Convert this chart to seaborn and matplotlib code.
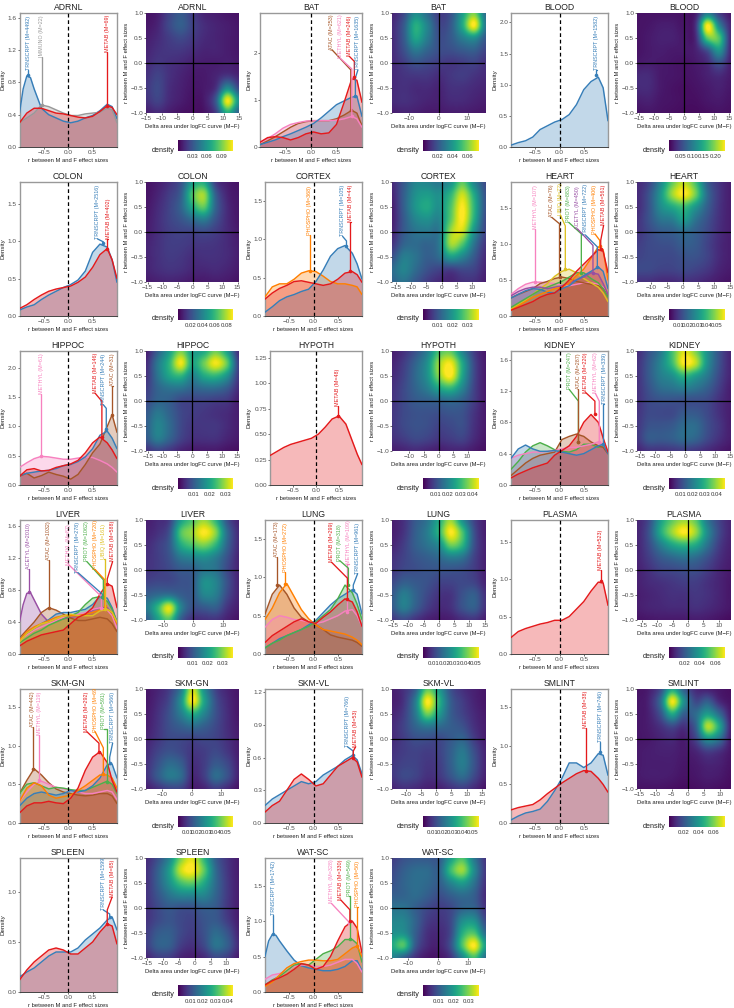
import numpy as np
import seaborn as sns
import matplotlib
matplotlib.use("Agg")
import matplotlib.pyplot as plt
from matplotlib.colors import Normalize

# r grid the density values were read at
R = [-1.0, -0.85, -0.7, -0.55, -0.4, -0.25, -0.1, 0.05, 0.2, 0.35, 0.5, 0.65, 0.8, 0.9, 1.0]
# same grid with two more readings, for the curves that peak near r=-0.8
R_LEFT = [-1.0, -0.925, -0.85, -0.775, -0.7, -0.55, -0.4, -0.25, -0.1, 0.05, 0.2, 0.35, 0.5, 0.65, 0.8, 0.9, 1.0]

ADRNL_TRNSCRPT = [0.42, 0.72, 0.88, 0.86, 0.72, 0.48, 0.40, 0.36, 0.32, 0.30, 0.32, 0.36, 0.39, 0.45, 0.53, 0.50, 0.35]
ADRNL_IMMUNO = [0.30, 0.36, 0.42, 0.52, 0.50, 0.46, 0.42, 0.39, 0.39, 0.41, 0.42, 0.43, 0.48, 0.46, 0.30]
ADRNL_METAB = [0.30, 0.42, 0.48, 0.48, 0.45, 0.42, 0.41, 0.39, 0.37, 0.36, 0.38, 0.44, 0.51, 0.49, 0.40]
BAT_TRNSCRPT = [0.05, 0.10, 0.15, 0.22, 0.28, 0.35, 0.42, 0.50, 0.62, 0.76, 0.90, 0.98, 1.06, 1.08, 0.65]
BAT_ATAC = [0.05, 0.13, 0.22, 0.32, 0.42, 0.50, 0.54, 0.56, 0.56, 0.56, 0.60, 0.68, 0.78, 0.72, 0.45]
BAT_METHYL = [0.10, 0.18, 0.28, 0.40, 0.48, 0.52, 0.55, 0.56, 0.56, 0.56, 0.57, 0.60, 0.65, 0.60, 0.42]
BAT_METAB = [0.10, 0.20, 0.22, 0.20, 0.15, 0.20, 0.28, 0.32, 0.28, 0.30, 0.48, 0.95, 1.45, 1.42, 0.95]
BLOOD_TRNSCRPT = [0.03, 0.07, 0.10, 0.16, 0.28, 0.34, 0.40, 0.44, 0.52, 0.68, 0.92, 1.05, 1.12, 0.95, 0.42]
COLON_TRNSCRPT = [0.08, 0.12, 0.15, 0.22, 0.28, 0.33, 0.38, 0.42, 0.48, 0.60, 0.85, 0.96, 0.92, 0.75, 0.45]
COLON_METAB = [0.10, 0.15, 0.22, 0.28, 0.33, 0.36, 0.38, 0.40, 0.45, 0.52, 0.65, 0.82, 0.90, 0.75, 0.50]
CORTEX_TRNSCRPT = [0.05, 0.12, 0.20, 0.25, 0.28, 0.32, 0.35, 0.45, 0.60, 0.78, 0.88, 0.92, 0.82, 0.68, 0.48]
CORTEX_PHOSPHO = [0.25, 0.38, 0.42, 0.42, 0.48, 0.56, 0.59, 0.58, 0.52, 0.45, 0.42, 0.42, 0.40, 0.38, 0.28]
CORTEX_METAB = [0.22, 0.30, 0.36, 0.40, 0.45, 0.46, 0.44, 0.42, 0.40, 0.42, 0.48, 0.56, 0.58, 0.54, 0.44]
HEART_METHYL = [0.30, 0.38, 0.44, 0.47, 0.47, 0.46, 0.45, 0.42, 0.42, 0.44, 0.46, 0.46, 0.44, 0.40, 0.30]
HEART_ATAC = [0.25, 0.30, 0.34, 0.38, 0.45, 0.48, 0.52, 0.54, 0.52, 0.48, 0.46, 0.44, 0.42, 0.38, 0.28]
HEART_UBIQ = [0.10, 0.16, 0.22, 0.30, 0.38, 0.45, 0.55, 0.62, 0.65, 0.60, 0.52, 0.46, 0.40, 0.32, 0.20]
HEART_PROT = [0.12, 0.18, 0.24, 0.30, 0.36, 0.40, 0.44, 0.48, 0.54, 0.60, 0.60, 0.52, 0.46, 0.38, 0.26]
HEART_ACETYL = [0.28, 0.34, 0.38, 0.40, 0.40, 0.38, 0.40, 0.42, 0.46, 0.50, 0.54, 0.60, 0.58, 0.45, 0.30]
HEART_TRNSCRPT = [0.25, 0.30, 0.35, 0.38, 0.37, 0.33, 0.32, 0.38, 0.42, 0.50, 0.56, 0.62, 0.68, 0.62, 0.38]
HEART_PHOSPHO = [0.08, 0.14, 0.20, 0.26, 0.30, 0.34, 0.38, 0.40, 0.46, 0.56, 0.65, 0.80, 0.96, 0.92, 0.50]
HEART_METAB = [0.08, 0.12, 0.16, 0.20, 0.26, 0.30, 0.32, 0.40, 0.50, 0.62, 0.72, 0.82, 0.92, 0.90, 0.60]
HIPPOC_METHYL = [0.30, 0.38, 0.45, 0.49, 0.48, 0.46, 0.44, 0.44, 0.46, 0.48, 0.47, 0.42, 0.36, 0.30, 0.22]
HIPPOC_METAB = [0.15, 0.26, 0.28, 0.24, 0.25, 0.30, 0.33, 0.36, 0.42, 0.55, 0.72, 0.82, 0.72, 0.60, 0.45]
HIPPOC_TRNSCRPT = [0.16, 0.20, 0.22, 0.24, 0.25, 0.28, 0.33, 0.35, 0.40, 0.48, 0.62, 0.85, 0.92, 0.80, 0.62]
HIPPOC_ATAC = [0.15, 0.20, 0.12, 0.16, 0.22, 0.18, 0.15, 0.10, 0.18, 0.35, 0.55, 0.70, 1.00, 1.20, 0.90]
HYPOTH_METAB = [0.29, 0.33, 0.37, 0.40, 0.42, 0.44, 0.46, 0.50, 0.57, 0.65, 0.68, 0.60, 0.42, 0.30, 0.20]
KIDNEY_PROT = [0.20, 0.30, 0.42, 0.50, 0.54, 0.50, 0.45, 0.43, 0.42, 0.45, 0.52, 0.52, 0.48, 0.50, 0.40]
KIDNEY_ATAC = [0.12, 0.20, 0.28, 0.34, 0.38, 0.40, 0.42, 0.58, 0.62, 0.65, 0.62, 0.55, 0.50, 0.48, 0.40]
KIDNEY_METAB = [0.09, 0.14, 0.18, 0.22, 0.25, 0.28, 0.38, 0.44, 0.50, 0.62, 0.80, 0.90, 0.80, 0.60, 0.42]
KIDNEY_METHYL = [0.34, 0.38, 0.40, 0.42, 0.42, 0.43, 0.44, 0.46, 0.48, 0.48, 0.50, 0.52, 0.55, 0.52, 0.42]
KIDNEY_TRNSCRPT = [0.34, 0.46, 0.51, 0.46, 0.43, 0.43, 0.44, 0.42, 0.40, 0.38, 0.40, 0.45, 0.50, 0.52, 0.40]
LIVER_ACETYL = [0.40, 0.62, 0.76, 0.77, 0.68, 0.50, 0.40, 0.42, 0.44, 0.46, 0.47, 0.50, 0.55, 0.58, 0.58, 0.50, 0.38]
LIVER_ATAC = [0.20, 0.30, 0.40, 0.52, 0.58, 0.55, 0.50, 0.45, 0.42, 0.42, 0.44, 0.46, 0.44, 0.38, 0.28]
LIVER_METHYL = [0.18, 0.24, 0.30, 0.34, 0.38, 0.42, 0.46, 0.48, 0.50, 0.52, 0.56, 0.58, 0.55, 0.48, 0.32]
LIVER_TRNSCRPT = [0.20, 0.26, 0.32, 0.38, 0.43, 0.50, 0.52, 0.52, 0.54, 0.56, 0.62, 0.72, 0.70, 0.58, 0.40]
LIVER_PROT = [0.14, 0.20, 0.26, 0.30, 0.36, 0.40, 0.44, 0.48, 0.52, 0.62, 0.70, 0.72, 0.66, 0.56, 0.40]
LIVER_PHOSPHO = [0.18, 0.28, 0.34, 0.38, 0.42, 0.46, 0.48, 0.48, 0.48, 0.50, 0.52, 0.55, 0.56, 0.52, 0.38]
LIVER_UBIQ = [0.15, 0.26, 0.32, 0.38, 0.40, 0.44, 0.48, 0.50, 0.48, 0.48, 0.48, 0.54, 0.56, 0.52, 0.40]
LIVER_METAB = [0.10, 0.16, 0.20, 0.24, 0.26, 0.28, 0.30, 0.38, 0.46, 0.50, 0.58, 0.75, 0.88, 0.85, 0.58]
LUNG_ATAC = [0.52, 0.78, 0.90, 0.78, 0.60, 0.48, 0.42, 0.38, 0.32, 0.25, 0.22, 0.20, 0.18, 0.15, 0.10]
LUNG_PHOSPHO = [0.45, 0.60, 0.80, 0.92, 0.75, 0.58, 0.46, 0.38, 0.32, 0.30, 0.28, 0.26, 0.22, 0.18, 0.12]
LUNG_METAB = [0.15, 0.24, 0.30, 0.36, 0.42, 0.46, 0.42, 0.40, 0.48, 0.55, 0.64, 0.72, 0.68, 0.55, 0.36]
LUNG_PROT = [0.08, 0.14, 0.18, 0.24, 0.28, 0.32, 0.36, 0.42, 0.50, 0.58, 0.72, 0.90, 0.80, 0.65, 0.45]
LUNG_METHYL = [0.35, 0.45, 0.50, 0.48, 0.45, 0.44, 0.42, 0.40, 0.42, 0.46, 0.50, 0.56, 0.58, 0.50, 0.36]
LUNG_TRNSCRPT = [0.08, 0.14, 0.20, 0.24, 0.28, 0.32, 0.38, 0.44, 0.54, 0.64, 0.72, 0.78, 0.84, 0.78, 0.52]
PLASMA_METAB = [0.22, 0.30, 0.34, 0.37, 0.40, 0.42, 0.45, 0.45, 0.50, 0.60, 0.70, 0.84, 0.96, 0.95, 0.65]
SKMGN_ATAC = [0.38, 0.55, 0.70, 0.62, 0.52, 0.44, 0.40, 0.38, 0.36, 0.35, 0.36, 0.38, 0.38, 0.35, 0.25]
SKMGN_METHYL = [0.28, 0.40, 0.50, 0.54, 0.50, 0.46, 0.44, 0.42, 0.40, 0.38, 0.38, 0.40, 0.42, 0.40, 0.30]
SKMGN_METAB = [0.13, 0.22, 0.26, 0.26, 0.28, 0.26, 0.25, 0.32, 0.45, 0.68, 0.85, 0.92, 0.78, 0.55, 0.40]
SKMGN_PHOSPHO = [0.28, 0.45, 0.52, 0.48, 0.36, 0.32, 0.34, 0.36, 0.42, 0.48, 0.55, 0.62, 0.62, 0.58, 0.45]
SKMGN_PROT = [0.38, 0.50, 0.52, 0.48, 0.44, 0.46, 0.45, 0.43, 0.42, 0.42, 0.46, 0.50, 0.54, 0.50, 0.38]
SKMGN_TRNSCRPT = [0.22, 0.32, 0.38, 0.40, 0.38, 0.36, 0.38, 0.42, 0.40, 0.42, 0.48, 0.58, 0.75, 0.76, 0.58]
SKMVL_TRNSCRPT = [0.16, 0.22, 0.26, 0.30, 0.34, 0.38, 0.36, 0.38, 0.44, 0.48, 0.52, 0.58, 0.62, 0.58, 0.45]
SKMVL_METAB = [0.10, 0.16, 0.20, 0.30, 0.40, 0.45, 0.40, 0.34, 0.36, 0.44, 0.52, 0.56, 0.60, 0.56, 0.42]
SMLINT_METAB = [0.17, 0.20, 0.22, 0.24, 0.30, 0.38, 0.45, 0.52, 0.58, 0.64, 0.68, 0.67, 0.58, 0.50, 0.40]
SMLINT_TRNSCRPT = [0.04, 0.09, 0.13, 0.15, 0.18, 0.28, 0.42, 0.58, 0.78, 0.78, 0.72, 0.78, 0.90, 0.88, 0.62]
SPLEEN_TRNSCRPT = [0.15, 0.20, 0.24, 0.30, 0.36, 0.40, 0.40, 0.40, 0.44, 0.52, 0.58, 0.64, 0.72, 0.75, 0.62]
SPLEEN_METAB = [0.12, 0.22, 0.30, 0.36, 0.42, 0.44, 0.42, 0.38, 0.38, 0.44, 0.50, 0.60, 0.68, 0.66, 0.48]
WATSC_TRNSCRPT = [0.50, 0.72, 0.81, 0.80, 0.72, 0.58, 0.45, 0.37, 0.34, 0.32, 0.30, 0.30, 0.32, 0.36, 0.44, 0.44, 0.30]
WATSC_METHYL = [0.18, 0.24, 0.26, 0.30, 0.36, 0.38, 0.38, 0.36, 0.36, 0.38, 0.42, 0.46, 0.46, 0.40, 0.28]
WATSC_METAB = [0.10, 0.16, 0.20, 0.25, 0.32, 0.40, 0.38, 0.32, 0.36, 0.50, 0.72, 0.92, 1.00, 0.90, 0.55]
WATSC_PROT = [0.10, 0.17, 0.22, 0.30, 0.38, 0.40, 0.38, 0.46, 0.54, 0.58, 0.64, 0.74, 0.74, 0.68, 0.42]
WATSC_PHOSPHO = [0.08, 0.14, 0.24, 0.34, 0.40, 0.43, 0.45, 0.45, 0.44, 0.44, 0.46, 0.54, 0.62, 0.65, 0.50]

TISSUES = ["ADRNL", "BAT", "BLOOD", "COLON", "CORTEX", "HEART", "HIPPOC", "HYPOTH", "KIDNEY", "LIVER", "LUNG",
           "PLASMA", "SKM-GN", "SKM-VL", "SMLINT", "SPLEEN", "WAT-SC"]

# tissue: (omic, number of features, density values)
SERIES = {
    "ADRNL": [("TRNSCRPT", 4492, ADRNL_TRNSCRPT), ("IMMUNO", 22, ADRNL_IMMUNO), ("METAB", 69, ADRNL_METAB)],
    "BAT": [("ATAC", 253, BAT_ATAC), ("METHYL", 621, BAT_METHYL), ("TRNSCRPT", 1635, BAT_TRNSCRPT), ("METAB", 246, BAT_METAB)],
    "BLOOD": [("TRNSCRPT", 1582, BLOOD_TRNSCRPT)],
    "COLON": [("TRNSCRPT", 2516, COLON_TRNSCRPT), ("METAB", 402, COLON_METAB)],
    "CORTEX": [("PHOSPHO", 368, CORTEX_PHOSPHO), ("TRNSCRPT", 105, CORTEX_TRNSCRPT), ("METAB", 44, CORTEX_METAB)],
    "HEART": [("METHYL", 107, HEART_METHYL), ("ATAC", 76, HEART_ATAC), ("UBIQ", 72, HEART_UBIQ), ("PROT", 883, HEART_PROT),
              ("ACETYL", 450, HEART_ACETYL), ("TRNSCRPT", 722, HEART_TRNSCRPT), ("PHOSPHO", 406, HEART_PHOSPHO), ("METAB", 561, HEART_METAB)],
    "HIPPOC": [("METHYL", 61, HIPPOC_METHYL), ("ATAC", 31, HIPPOC_ATAC), ("TRNSCRPT", 244, HIPPOC_TRNSCRPT), ("METAB", 146, HIPPOC_METAB)],
    "HYPOTH": [("METAB", 48, HYPOTH_METAB)],
    "KIDNEY": [("PROT", 247, KIDNEY_PROT), ("ATAC", 287, KIDNEY_ATAC), ("METHYL", 62, KIDNEY_METHYL), ("TRNSCRPT", 339, KIDNEY_TRNSCRPT), ("METAB", 220, KIDNEY_METAB)],
    "LIVER": [("ACETYL", 2010, LIVER_ACETYL), ("ATAC", 1032, LIVER_ATAC), ("METHYL", 87, LIVER_METHYL), ("TRNSCRPT", 278, LIVER_TRNSCRPT),
              ("PROT", 1062, LIVER_PROT), ("PHOSPHO", 720, LIVER_PHOSPHO), ("UBIQ", 161, LIVER_UBIQ), ("METAB", 588, LIVER_METAB)],
    "LUNG": [("ATAC", 173, LUNG_ATAC), ("PHOSPHO", 272, LUNG_PHOSPHO), ("METHYL", 109, LUNG_METHYL), ("TRNSCRPT", 961, LUNG_TRNSCRPT),
             ("PROT", 318, LUNG_PROT), ("METAB", 299, LUNG_METAB)],
    "PLASMA": [("METAB", 523, PLASMA_METAB)],
    "SKM-GN": [("ATAC", 442, SKMGN_ATAC), ("METHYL", 119, SKMGN_METHYL), ("PROT", 591, SKMGN_PROT), ("TRNSCRPT", 566, SKMGN_TRNSCRPT),
               ("PHOSPHO", 694, SKMGN_PHOSPHO), ("METAB", 292, SKMGN_METAB)],
    "SKM-VL": [("TRNSCRPT", 766, SKMVL_TRNSCRPT), ("METAB", 53, SKMVL_METAB)],
    "SMLINT": [("TRNSCRPT", 746, SMLINT_TRNSCRPT), ("METAB", 38, SMLINT_METAB)],
    "SPLEEN": [("TRNSCRPT", 1599, SPLEEN_TRNSCRPT), ("METAB", 65, SPLEEN_METAB)],
    "WAT-SC": [("TRNSCRPT", 1742, WATSC_TRNSCRPT), ("METHYL", 328, WATSC_METHYL), ("PROT", 549, WATSC_PROT),
               ("PHOSPHO", 50, WATSC_PHOSPHO), ("METAB", 330, WATSC_METAB)],
}

# peak r, peak density, elbow y, label x, label y - same order as SERIES
LABEL_SPOTS = {
    "ADRNL": [(-0.82, 0.89, 0.95, -0.82, 0.95), (-0.54, 0.52, 1.11, -0.54, 1.11), (0.80, 0.51, 1.18, 0.80, 1.18)],
    "BAT": [(0.78, 0.78, 1.64, 0.41, 2.07), (0.80, 0.65, 1.66, 0.57, 1.89), (0.87, 1.08, 1.47, 0.92, 1.64), (0.85, 1.48, 1.82, 0.75, 1.93)],
    "BLOOD": [(0.75, 1.15, 1.24, 0.77, 1.24)],
    "COLON": [(0.72, 0.97, 0.99, 0.60, 1.03), (0.80, 0.90, 1.03, 0.82, 1.03)],
    "CORTEX": [(-0.08, 0.59, 1.06, -0.08, 1.06), (0.68, 0.92, 0.98, 0.60, 1.04), (0.75, 0.59, 1.23, 0.77, 1.23)],
    "HEART": [(-0.50, 0.47, 1.21, -0.50, 1.21), (0.00, 0.54, 1.28, -0.16, 1.37), (0.12, 0.65, 1.25, 0.02, 1.40), (0.45, 0.60, 1.14, 0.19, 1.30),
              (0.69, 0.60, 0.98, 0.37, 1.21), (0.78, 0.68, 0.96, 0.54, 1.12), (0.83, 0.97, 1.05, 0.73, 1.14), (0.85, 0.93, 1.05, 0.91, 1.26)],
    "HIPPOC": [(-0.55, 0.49, 1.56, -0.55, 1.56), (0.90, 1.20, 1.69, 0.91, 1.69), (0.78, 0.95, 1.31, 0.72, 1.37), (0.69, 0.82, 1.43, 0.55, 1.57)],
    "HYPOTH": [(0.47, 0.68, 0.78, 0.47, 0.78)],
    "KIDNEY": [(0.39, 0.55, 1.07, 0.20, 1.22), (0.39, 0.55, 1.22, 0.39, 1.22), (0.82, 0.55, 1.07, 0.74, 1.17), (0.90, 0.52, 1.03, 0.92, 1.03), (0.73, 0.90, 1.07, 0.54, 1.18)],
    "LIVER": [(-0.81, 0.78, 1.07, -0.81, 1.07), (-0.40, 0.58, 1.18, -0.40, 1.18), (0.68, 0.58, 0.72, 0.01, 1.12), (0.70, 0.72, 0.75, 0.20, 1.02),
              (0.72, 0.72, 0.93, 0.38, 1.16), (0.75, 0.60, 0.93, 0.55, 1.06), (0.75, 0.56, 1.19, 0.73, 1.19), (0.80, 0.88, 0.94, 0.91, 1.16)],
    "LUNG": [(-0.76, 0.90, 1.27, -0.76, 1.27), (-0.58, 0.92, 1.07, -0.58, 1.07), (0.70, 0.55, 1.18, 0.73, 1.18), (0.82, 0.84, 0.90, 0.91, 1.05),
             (0.72, 0.90, 1.12, 0.54, 1.22), (0.70, 0.72, 0.99, 0.37, 1.20)],
    "PLASMA": [(0.85, 0.98, 1.12, 0.85, 1.12)],
    "SKM-GN": [(-0.73, 0.70, 1.24, -0.73, 1.24), (-0.60, 0.55, 1.14, -0.60, 1.14), (0.79, 0.53, 1.22, 0.73, 1.22), (0.85, 0.78, 0.85, 0.91, 1.03),
               (0.72, 0.63, 0.97, 0.55, 1.18), (0.63, 0.92, 1.03, 0.38, 1.18)],
    "SKM-VL": [(0.82, 0.62, 0.66, 0.70, 0.70), (0.82, 0.60, 0.66, 0.87, 0.70)],
    "SMLINT": [(0.84, 0.92, 1.05, 0.84, 1.05), (0.54, 0.68, 1.23, 0.54, 1.23)],
    "SPLEEN": [(0.85, 0.75, 0.78, 0.72, 0.82), (0.80, 0.68, 0.82, 0.90, 0.95)],
    "WAT-SC": [(-0.83, 0.82, 1.09, -0.83, 1.09), (0.74, 0.98, 0.98, 0.37, 1.25), (0.75, 0.75, 1.36, 0.74, 1.36),
               (0.90, 0.65, 1.20, 0.91, 1.20), (0.75, 1.00, 1.16, 0.56, 1.30)],
}

DENSITY_TOP = {"ADRNL": 1.66, "BAT": 2.85, "BLOOD": 2.15, "COLON": 1.79, "CORTEX": 1.75, "HEART": 1.86, "HIPPOC": 2.29, "HYPOTH": 1.32,
               "KIDNEY": 1.71, "LIVER": 1.68, "LUNG": 1.75, "PLASMA": 1.79, "SKM-GN": 1.73, "SKM-VL": 1.23, "SMLINT": 1.74, "SPLEEN": 1.34, "WAT-SC": 1.89}
DENSITY_TICKS = {"ADRNL": ["0.0", "0.4", "0.8", "1.2", "1.6"], "BAT": ["0", "1", "2"], "BLOOD": ["0.0", "0.5", "1.0", "1.5", "2.0"],
                 "COLON": ["0.0", "0.5", "1.0", "1.5"], "CORTEX": ["0.0", "0.5", "1.0", "1.5"], "HEART": ["0.0", "0.5", "1.0", "1.5"],
                 "HIPPOC": ["0.0", "0.5", "1.0", "1.5", "2.0"], "HYPOTH": ["0.00", "0.25", "0.50", "0.75", "1.00", "1.25"],
                 "KIDNEY": ["0.0", "0.4", "0.8", "1.2", "1.6"], "LIVER": ["0.0", "0.4", "0.8", "1.2", "1.6"], "LUNG": ["0.0", "0.5", "1.0", "1.5"],
                 "PLASMA": ["0.0", "0.5", "1.0", "1.5"], "SKM-GN": ["0.0", "0.5", "1.0", "1.5"], "SKM-VL": ["0.0", "0.3", "0.6", "0.9", "1.2"],
                 "SMLINT": ["0.0", "0.5", "1.0", "1.5"], "SPLEEN": ["0.0", "0.5", "1.0"], "WAT-SC": ["0.0", "0.5", "1.0", "1.5"]}

HEAT_XLIM = {"ADRNL": (-15, 15), "BAT": (-16, 16), "BLOOD": (-15.8, 15.5), "COLON": (-15.5, 15.5), "CORTEX": (-16.3, 14.2), "HEART": (-14.6, 15.4),
             "HIPPOC": (-15.6, 15.7), "HYPOTH": (-16, 16), "KIDNEY": (-16, 15.2), "LIVER": (-16, 15.5), "LUNG": (-15.4, 15.1), "PLASMA": (-16.6, 14),
             "SKM-GN": (-15.5, 16), "SKM-VL": (-14.5, 16), "SMLINT": (-15.8, 13.5), "SPLEEN": (-15.4, 14), "WAT-SC": (-15.5, 15.7)}
FIVES = [-15, -10, -5, 0, 5, 10, 15]
HEAT_XTICKS = {"ADRNL": FIVES, "BAT": [-10, 0, 10], "BLOOD": FIVES, "COLON": FIVES, "CORTEX": FIVES[:-1], "HEART": FIVES[1:], "HIPPOC": FIVES,
               "HYPOTH": [-10, -5, 0, 5, 10], "KIDNEY": FIVES, "LIVER": [-10, 0, 10], "LUNG": FIVES, "PLASMA": FIVES[:-1], "SKM-GN": [-10, 0, 10],
               "SKM-VL": FIVES[1:], "SMLINT": FIVES[:-1], "SPLEEN": FIVES[:-1], "WAT-SC": [-10, 0, 10]}
HEAT_MAX = {"ADRNL": 0.114, "BAT": 0.076, "BLOOD": 0.24, "COLON": 0.09, "CORTEX": 0.038, "HEART": 0.059, "HIPPOC": 0.0346, "HYPOTH": 0.045,
            "KIDNEY": 0.047, "LIVER": 0.0373, "LUNG": 0.053, "PLASMA": 0.072, "SKM-GN": 0.058, "SKM-VL": 0.056, "SMLINT": 0.076, "SPLEEN": 0.044, "WAT-SC": 0.037}
CBAR_TICKS = {"ADRNL": ["0.03", "0.06", "0.09"], "BAT": ["0.02", "0.04", "0.06"], "BLOOD": ["0.05", "0.10", "0.15", "0.20"],
              "COLON": ["0.02", "0.04", "0.06", "0.08"], "CORTEX": ["0.01", "0.02", "0.03"], "HEART": ["0.01", "0.02", "0.03", "0.04", "0.05"],
              "HIPPOC": ["0.01", "0.02", "0.03"], "HYPOTH": ["0.01", "0.02", "0.03", "0.04"], "KIDNEY": ["0.01", "0.02", "0.03", "0.04"],
              "LIVER": ["0.01", "0.02", "0.03"], "LUNG": ["0.01", "0.02", "0.03", "0.04", "0.05"], "PLASMA": ["0.02", "0.04", "0.06"],
              "SKM-GN": ["0.01", "0.02", "0.03", "0.04", "0.05"], "SKM-VL": ["0.01", "0.02", "0.03", "0.04", "0.05"], "SMLINT": ["0.02", "0.04", "0.06"],
              "SPLEEN": ["0.01", "0.02", "0.03", "0.04"], "WAT-SC": ["0.01", "0.02", "0.03"]}

# share of the colour bar top (percent), rows from r=1 down to r=-1, columns left to right
HEAT = {
    "ADRNL": [[5, 8, 20, 28, 18, 10, 8, 6, 5], [6, 10, 22, 30, 20, 13, 10, 8, 6], [8, 12, 18, 22, 17, 12, 10, 8, 6],
              [10, 14, 16, 16, 13, 10, 10, 8, 6], [12, 16, 14, 12, 9, 8, 8, 9, 7], [14, 20, 14, 10, 7, 7, 10, 15, 10],
              [16, 22, 13, 9, 6, 7, 14, 48, 22], [14, 20, 12, 8, 5, 7, 28, 98, 50], [8, 12, 8, 5, 4, 5, 18, 62, 30]],
    "BAT": [[10, 22, 48, 35, 18, 25, 55, 80, 35], [12, 28, 62, 45, 22, 28, 60, 100, 40], [12, 28, 58, 42, 24, 28, 42, 50, 28],
            [12, 24, 40, 32, 24, 24, 28, 30, 20], [12, 18, 25, 22, 18, 16, 18, 20, 14], [12, 15, 16, 16, 13, 16, 18, 15, 12],
            [12, 14, 12, 12, 10, 14, 14, 12, 10], [12, 14, 12, 10, 9, 12, 12, 10, 8], [8, 10, 9, 7, 7, 8, 8, 7, 6]],
    "BLOOD": [[5, 5, 5, 5, 5, 8, 40, 18, 6], [5, 6, 8, 8, 6, 15, 100, 45, 10], [5, 7, 9, 9, 7, 12, 75, 72, 10],
              [5, 7, 8, 7, 7, 9, 25, 52, 10], [7, 8, 7, 6, 5, 7, 12, 25, 8], [12, 12, 7, 6, 5, 6, 9, 12, 7],
              [12, 12, 7, 5, 4, 5, 7, 9, 6], [8, 9, 6, 5, 4, 4, 6, 7, 5], [5, 6, 5, 4, 3, 3, 4, 5, 4]],
    "COLON": [[5, 8, 14, 25, 55, 60, 18, 8, 5], [5, 10, 18, 30, 72, 85, 30, 10, 6], [6, 12, 20, 32, 60, 75, 32, 12, 6],
              [7, 13, 20, 26, 35, 42, 25, 12, 6], [8, 13, 18, 20, 20, 22, 18, 12, 7], [10, 14, 18, 18, 16, 16, 15, 12, 8],
              [10, 14, 17, 16, 13, 14, 14, 12, 8], [10, 13, 15, 14, 11, 11, 12, 10, 7], [7, 9, 10, 9, 7, 7, 8, 7, 5]],
    "CORTEX": [[12, 28, 45, 45, 40, 50, 75, 45, 22], [10, 30, 50, 55, 50, 65, 92, 60, 25], [8, 30, 52, 60, 50, 72, 100, 65, 25],
               [8, 28, 45, 50, 45, 75, 100, 62, 22], [10, 28, 38, 40, 40, 85, 92, 50, 20], [15, 32, 35, 32, 40, 85, 72, 38, 15],
               [25, 42, 38, 30, 35, 55, 45, 28, 12], [35, 45, 35, 25, 20, 18, 22, 20, 10], [32, 38, 28, 18, 12, 10, 14, 14, 8]],
    "HEART": [[12, 20, 45, 75, 90, 70, 30, 15, 8], [12, 25, 52, 85, 100, 78, 35, 16, 8], [12, 25, 48, 60, 68, 52, 30, 15, 8],
              [14, 25, 38, 42, 55, 38, 25, 14, 8], [15, 22, 28, 30, 35, 30, 22, 13, 8], [18, 22, 24, 25, 30, 28, 20, 12, 8],
              [20, 22, 22, 22, 25, 25, 20, 12, 8], [22, 22, 20, 20, 22, 20, 16, 10, 7], [14, 14, 12, 12, 14, 13, 10, 7, 5]],
    "HIPPOC": [[8, 30, 55, 80, 55, 60, 78, 55, 12], [12, 40, 65, 98, 60, 78, 98, 75, 18], [14, 38, 58, 65, 45, 60, 65, 50, 16],
               [18, 32, 38, 38, 32, 35, 35, 28, 12], [22, 32, 30, 22, 20, 20, 18, 16, 8], [28, 40, 32, 22, 18, 16, 14, 12, 8],
               [30, 45, 35, 22, 16, 16, 16, 12, 8], [28, 42, 32, 20, 14, 14, 14, 10, 7], [14, 20, 16, 10, 7, 7, 7, 5, 4]],
    "HYPOTH": [[8, 14, 25, 42, 70, 75, 45, 18, 6], [10, 18, 32, 50, 85, 98, 60, 22, 7], [12, 20, 34, 50, 82, 100, 58, 22, 7],
               [14, 22, 32, 42, 58, 65, 45, 20, 7], [15, 22, 28, 30, 32, 35, 30, 18, 7], [16, 22, 25, 25, 24, 26, 25, 15, 7],
               [16, 22, 25, 24, 20, 22, 24, 14, 7], [14, 18, 22, 20, 16, 18, 20, 12, 6], [8, 10, 12, 10, 8, 10, 10, 7, 4]],
    "KIDNEY": [[12, 25, 40, 70, 95, 80, 50, 25, 10], [14, 28, 45, 68, 100, 90, 50, 25, 10], [14, 28, 42, 50, 65, 55, 40, 22, 10],
               [14, 25, 35, 38, 42, 38, 30, 18, 8], [14, 22, 25, 25, 24, 24, 22, 14, 8], [15, 22, 22, 22, 28, 28, 22, 14, 8],
               [16, 25, 26, 28, 35, 35, 24, 16, 8], [16, 28, 28, 30, 35, 32, 22, 14, 8], [10, 15, 15, 16, 18, 16, 12, 8, 5]],
    "LIVER": [[8, 12, 18, 55, 72, 85, 65, 25, 10], [10, 14, 25, 72, 85, 100, 82, 35, 12], [12, 18, 28, 60, 72, 80, 65, 32, 12],
              [14, 18, 25, 40, 45, 50, 42, 25, 10], [15, 18, 22, 28, 30, 40, 38, 22, 10], [20, 22, 22, 25, 28, 50, 45, 25, 10],
              [30, 35, 38, 30, 28, 45, 42, 22, 10], [40, 65, 95, 45, 25, 28, 30, 15, 8], [28, 55, 72, 30, 14, 14, 15, 9, 5]],
    "LUNG": [[8, 14, 28, 38, 60, 85, 50, 20, 8], [8, 15, 30, 42, 65, 100, 72, 25, 8], [10, 18, 30, 38, 48, 78, 65, 25, 9],
             [14, 20, 26, 30, 34, 42, 38, 20, 9], [16, 22, 24, 26, 26, 26, 24, 18, 9], [22, 30, 28, 25, 20, 20, 22, 20, 10],
             [28, 42, 32, 22, 15, 15, 25, 30, 14], [28, 42, 30, 18, 12, 14, 25, 30, 14], [16, 22, 15, 9, 7, 8, 13, 15, 8]],
    "PLASMA": [[10, 22, 55, 75, 85, 75, 40, 20, 10], [10, 25, 60, 85, 100, 85, 48, 22, 10], [10, 22, 42, 58, 65, 60, 38, 18, 9],
               [10, 18, 28, 34, 38, 35, 25, 14, 8], [9, 14, 20, 22, 24, 24, 18, 11, 7], [9, 12, 14, 16, 18, 18, 14, 10, 6],
               [8, 10, 12, 14, 14, 16, 14, 10, 6], [8, 10, 11, 12, 12, 14, 12, 9, 6], [5, 6, 7, 7, 7, 8, 7, 5, 3]],
    "SKM-GN": [[6, 10, 18, 40, 92, 50, 20, 10, 6], [6, 12, 22, 50, 100, 58, 25, 12, 6], [7, 14, 25, 42, 62, 45, 25, 13, 6],
               [8, 15, 24, 30, 35, 30, 22, 13, 7], [10, 16, 22, 22, 20, 22, 20, 14, 8], [12, 20, 25, 22, 16, 18, 22, 16, 8],
               [14, 25, 35, 30, 14, 18, 28, 22, 9], [14, 28, 40, 35, 12, 18, 35, 25, 9], [8, 14, 20, 20, 8, 10, 18, 12, 5]],
    "SKM-VL": [[8, 14, 30, 75, 55, 25, 14, 9, 6], [8, 15, 42, 100, 65, 30, 18, 10, 6], [10, 18, 40, 78, 55, 30, 20, 12, 7],
               [12, 20, 32, 40, 35, 30, 25, 14, 8], [12, 18, 24, 24, 22, 28, 32, 18, 8], [14, 18, 20, 18, 20, 30, 40, 24, 10],
               [16, 20, 20, 16, 18, 30, 42, 26, 10], [16, 22, 20, 14, 16, 26, 35, 22, 9], [10, 14, 12, 9, 9, 14, 18, 12, 5]],
    "SMLINT": [[5, 8, 22, 60, 30, 12, 9, 6, 4], [6, 10, 35, 98, 50, 22, 30, 12, 5], [6, 9, 25, 60, 30, 35, 55, 35, 7],
               [6, 8, 14, 22, 14, 30, 88, 60, 9], [6, 7, 10, 12, 8, 20, 50, 38, 7], [7, 8, 9, 9, 7, 10, 18, 14, 6],
               [7, 8, 8, 8, 6, 7, 10, 9, 5], [7, 8, 8, 7, 5, 6, 8, 7, 4], [5, 5, 5, 4, 3, 4, 5, 4, 3]],
    "SPLEEN": [[12, 24, 45, 80, 95, 65, 30, 15, 8], [14, 30, 55, 92, 100, 75, 35, 16, 8], [14, 30, 50, 70, 75, 60, 35, 17, 8],
               [15, 26, 38, 45, 45, 45, 32, 17, 8], [14, 22, 28, 25, 25, 30, 28, 16, 8], [15, 22, 26, 22, 20, 26, 28, 18, 8],
               [18, 28, 30, 22, 18, 25, 35, 26, 10], [18, 30, 30, 18, 14, 22, 38, 30, 12], [10, 18, 18, 10, 8, 12, 22, 18, 7]],
    "WAT-SC": [[18, 25, 28, 28, 28, 55, 72, 40, 15], [22, 30, 35, 35, 32, 68, 85, 48, 16], [25, 32, 36, 34, 30, 45, 55, 38, 14],
               [30, 32, 35, 30, 24, 30, 35, 30, 12], [38, 38, 30, 22, 18, 22, 32, 32, 15], [45, 45, 32, 18, 15, 22, 48, 50, 22],
               [50, 50, 30, 14, 12, 22, 62, 72, 35], [60, 72, 28, 12, 10, 25, 72, 100, 55], [45, 30, 14, 6, 6, 15, 45, 70, 35]],
}

COLORS = {"TRNSCRPT": "#377EB8", "METAB": "#E41A1C", "IMMUNO": "#999999", "ATAC": "#A65628", "METHYL": "#F781BF",
          "PHOSPHO": "#FF7F00", "PROT": "#4DAF4A", "ACETYL": "#984EA3", "UBIQ": "#DDC020"}

W, H = 734, 1008
ROW_TOPS = [13, 182, 351, 520, 689, 858]
DENSITY_X = [(19.5, 117), (265, 362), (511, 608)]
DENSITY_LEFT = {"BAT": 260, "HYPOTH": 270}
DENSITY_LABEL_X = [6, 251.5, 497.5]
HEAT_X = [(146, 239), (392, 485), (637, 731)]
CBAR_X = [(178, 233), (423, 479), (669, 725)]
TICK_GREY = "#4d4d4d"

sns.set_theme(style="white")
plt.rcParams["font.family"] = ["Liberation Sans", "DejaVu Sans"]
plt.rcParams["axes.unicode_minus"] = True


def px_axes(fig, left, right, top, bottom):
    return fig.add_axes([left / W, 1 - bottom / H, (right - left) / W, (bottom - top) / H])


def style_ticks(ax):
    ax.tick_params(axis="both", length=1.2, width=0.5, pad=0.8, labelsize=4.6, labelcolor=TICK_GREY,
                   color="#333333", bottom=True, left=True)


def draw_density(fig, tissue, row, col):
    left, right = DENSITY_X[col]
    left = DENSITY_LEFT.get(tissue, left)
    ax = px_axes(fig, left, right, ROW_TOPS[row], ROW_TOPS[row] + 134)
    for omic, n, values in SERIES[tissue]:
        r = R_LEFT if len(values) == len(R_LEFT) else R
        sns.lineplot(x=r, y=values, color=COLORS[omic], lw=1.05, ax=ax, errorbar=None, zorder=3)
        ax.fill_between(r, values, color=COLORS[omic], alpha=0.3, lw=0, zorder=2)
    ax.axvline(0, color="black", ls=(0, (3, 2.2)), lw=0.9, zorder=4)
    for (omic, n, values), spot in zip(SERIES[tissue], LABEL_SPOTS[tissue]):
        peak_r, peak_d, elbow, text_x, text_y = spot
        ax.plot([peak_r, peak_r, text_x], [peak_d, elbow, text_y], color=COLORS[omic], lw=0.95, zorder=5)
        ax.plot([peak_r], [peak_d], "o", ms=2.6, color=COLORS[omic], mew=0, zorder=5)
        ax.text(text_x, text_y, f"{omic} (M={n})", rotation=90, ha="center", va="bottom", fontsize=3.9,
                color=COLORS[omic], clip_on=True, zorder=6)
    ax.set_xlim(-1, 1)
    ax.set_ylim(0, DENSITY_TOP[tissue])
    ax.set_xticks([-0.5, 0, 0.5], ["\u22120.5", "0.0", "0.5"])
    ticks = DENSITY_TICKS[tissue]
    ax.set_yticks([float(t) for t in ticks], ticks)
    style_ticks(ax)
    for side in ax.spines:
        ax.spines[side].set_color("#999999")
        ax.spines[side].set_linewidth(1.0)
    ax.spines["bottom"].set_color("#444444")
    ax.spines["bottom"].set_linewidth(0.7)
    ax.set_title(tissue, fontsize=6.2, pad=2.5, color="#222222")
    ax.set_xlabel("r between M and F effect sizes", fontsize=4.2, color="#222222")
    ax.set_ylabel("Density", fontsize=4.5, color="#222222")
    ax.xaxis.set_label_coords(0.5, -11 / 134)
    ax.yaxis.set_label_coords((DENSITY_LABEL_X[col] - left) / (right - left), 0.5)


def draw_heat(fig, tissue, row, col):
    left, right = HEAT_X[col]
    top = ROW_TOPS[row]
    ax = px_axes(fig, left, right, top, top + 100)
    x0, x1 = HEAT_XLIM[tissue]
    vmax = HEAT_MAX[tissue]
    grid = np.array(HEAT[tissue]) / 100 * vmax
    dx = (x1 - x0) / 8
    im = ax.imshow(grid, cmap="viridis", norm=Normalize(0, vmax), aspect="auto", interpolation="catrom",
                   extent=[x0 - dx / 2, x1 + dx / 2, -1.125, 1.125])
    ax.set_xlim(x0, x1)
    ax.set_ylim(-1, 1)
    ax.axhline(0, color="black", lw=0.9)
    ax.axvline(0, color="black", lw=0.9)
    xt = HEAT_XTICKS[tissue]
    ax.set_xticks(xt, [str(t).replace("-", "\u2212") for t in xt])
    ax.set_yticks([-1, -0.5, 0, 0.5, 1], ["\u22121.0", "\u22120.5", "0.0", "0.5", "1.0"])
    style_ticks(ax)
    sns.despine(ax=ax, left=True, bottom=True)
    ax.set_title(tissue, fontsize=6.2, pad=2.5, color="#222222")
    ax.set_xlabel("Delta area under logFC curve (M\u2212F)", fontsize=4.2, color="#222222")
    ax.set_ylabel("r between M and F effect sizes", fontsize=4.2, color="#222222")
    ax.xaxis.set_label_coords(0.5, -11 / 100)
    ax.yaxis.set_label_coords(-17 / 93, 0.5)

    c0, c1 = CBAR_X[col]
    cax = px_axes(fig, c0, c1, top + 127, top + 138)
    bar = fig.colorbar(im, cax=cax, orientation="horizontal")
    labels = CBAR_TICKS[tissue]
    bar.set_ticks([float(t) for t in labels], labels=labels)
    bar.outline.set_visible(False)
    cax.tick_params(axis="x", direction="in", length=2, width=0.5, color="white", top=True, bottom=True,
                    labelsize=4.3, labelcolor="#333333", pad=2.5)
    fig.text((c0 - 3.5) / W, 1 - (top + 137) / H, "density", ha="right", va="center", fontsize=5.2, color="#222222")


fig = plt.figure(figsize=(W / 100, H / 100), dpi=100)
for i, tissue in enumerate(TISSUES):
    row, col = i // 3, i % 3
    draw_density(fig, tissue, row, col)
    draw_heat(fig, tissue, row, col)
fig.savefig("out.png", dpi=100)
plt.close(fig)
